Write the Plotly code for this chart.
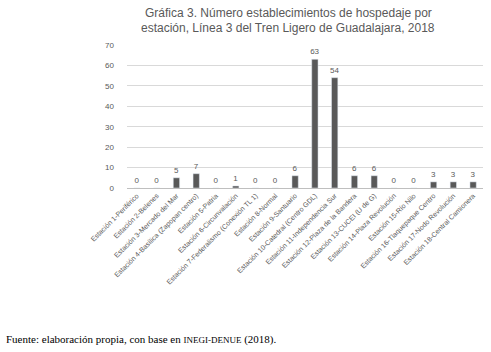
import plotly.graph_objects as go

estaciones = [
    "Estación 1-Periférico", "Estación 2-Belenes", "Estación 3-Mercado del Mar",
    "Estación 4-Basílica (Zapopan centro)", "Estación 5-Patria", "Estación 6-Circunvalación",
    "Estación 7-Federalismo (Conexión TL 1)", "Estación 8-Normal", "Estación 9-Santuario",
    "Estación 10-Catedral (Centro GDL)", "Estación 11-Independencia Sur",
    "Estación 12-Plaza de la Bandera", "Estación 13-CUCEI (U de G)",
    "Estación 14-Plaza Revolución", "Estación 15-Río Nilo", "Estación 16-Tlaquepaque Centro",
    "Estación 17-Nodo Revolución", "Estación 18-Central Camionera",
]
valores = [0, 0, 5, 7, 0, 1, 0, 0, 6, 63, 54, 6, 6, 0, 0, 3, 3, 3]
y_ticks = [0, 10, 20, 30, 40, 50, 60, 70]

W, H = 491, 352
ml, mr, mt, mb = 127, 8, 45, 164
ph = H - mt - mb
pw = W - ml - mr

fig = go.Figure(go.Bar(
    x=estaciones, y=valores,
    marker_color="#595959",
    text=[str(v) for v in valores], textposition="outside",
    textfont=dict(size=8, color="#595959"),
    constraintext="none",
    cliponaxis=False,
))

fig.update_layout(
    width=W, height=H,
    margin=dict(l=ml, r=mr, t=mt, b=mb),
    paper_bgcolor="white", plot_bgcolor="white",
    font=dict(family="Liberation Sans, Arial, sans-serif", color="#595959", size=8),
    bargap=0.68,
    showlegend=False,
    xaxis=dict(
        tickangle=-45, tickfont=dict(size=7, color="#595959"),
        showline=True, linecolor="#BFBFBF", linewidth=1, ticks="",
        showgrid=False,
    ),
    yaxis=dict(
        range=[0, 70], tickvals=y_ticks, showgrid=True, gridcolor="#D9D9D9",
        zeroline=False, tickfont=dict(size=8, color="#595959"), ticks="",
        ticklabelstandoff=12,
    ),
)

title_lines = [
    "Gráfica 3. Número establecimientos de hospedaje por",
    "estación, Línea 3 del Tren Ligero de Guadalajara, 2018",
]
for i, line in enumerate(title_lines):
    ypix = 13 + 15 * i
    fig.add_annotation(
        text=line, xref="paper", yref="paper",
        x=(288 - ml) / pw, y=1 + (mt - ypix) / ph,
        xanchor="center", yanchor="middle", showarrow=False,
        font=dict(size=12, color="#595959"),
    )

fig.add_annotation(
    text="Fuente: elaboración propia, con base en <span style='font-size:9px'>INEGI-DENUE</span> (2018).",
    xref="paper", yref="paper", x=-(ml - 4) / pw, y=-(339 - (mt + ph)) / ph,
    xanchor="left", yanchor="middle", showarrow=False,
    font=dict(family="Liberation Serif, Times New Roman, serif", size=11, color="black"),
)

fig.write_html("out.html")
